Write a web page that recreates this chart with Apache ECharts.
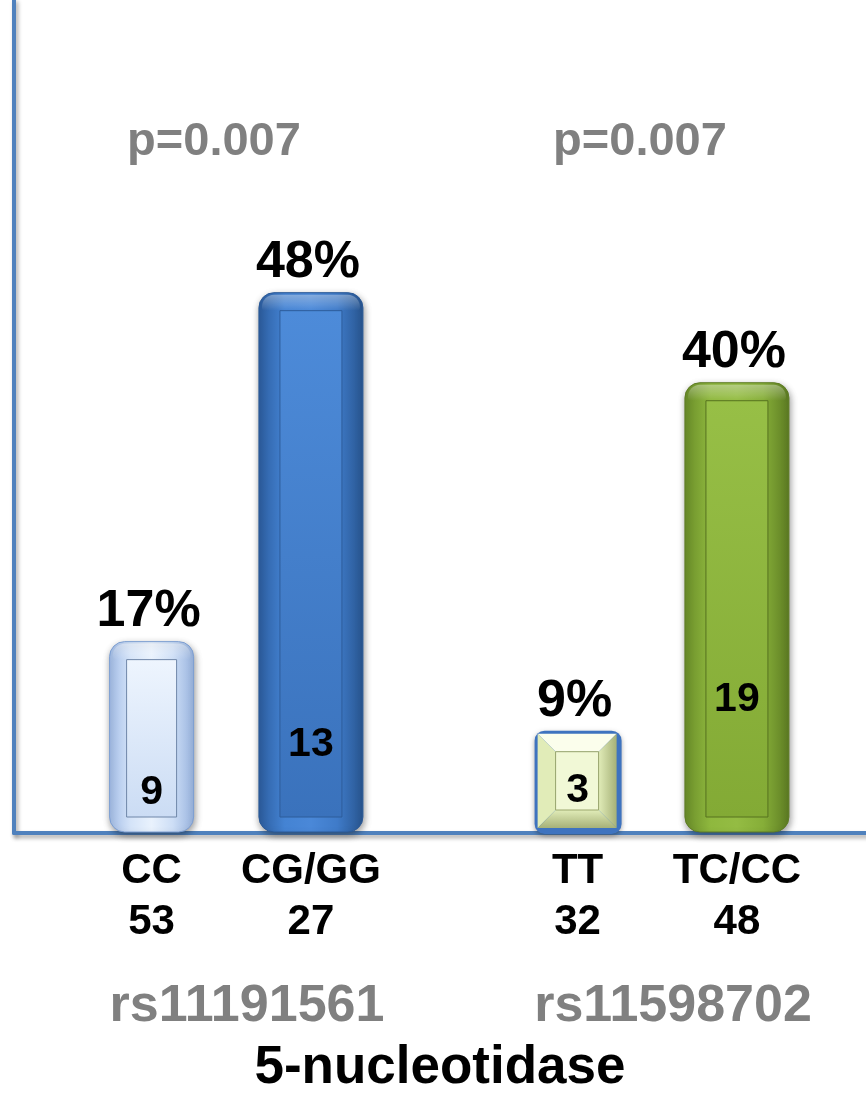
<!DOCTYPE html>
<html>
<head>
<meta charset="utf-8">
<script src="https://cdn.jsdelivr.net/npm/echarts@6/dist/echarts.min.js"></script>
<style>
  html, body { margin: 0; padding: 0; background: #ffffff; }
  #chart { width: 866px; height: 1094px; }
</style>
</head>
<body>
<div id="chart"></div>
<script>
// SNP markers and their p-values
const markers = ['rs11191561', 'rs11598702'];
const pValues = ['p=0.007', 'p=0.007'];

// Genotype groups, in drawing order
const genotypes = ['CC', 'CG/GG', 'TT', 'TC/CC'];
const genotypeMarker = [0, 0, 1, 1];   // index into markers
const genotypeSlot = [0, 1, 0, 1];     // first / second bar inside a marker
const patients = [53, 27, 32, 48];     // n per genotype
const cases = [9, 13, 3, 19];          // events per genotype
const percents = [17, 48, 9, 40];      // % with event

// ---- look & layout ----
const FONT = '"Liberation Sans", Arial, Helvetica, sans-serif';
const AXIS_BLUE = '#4f81bd';
const SLOT_OFFSET = [-0.177, 0.197];   // bar centre, as a fraction of the band width
const SLOT_WIDTH = [84, 104];
const COUNT_LIFT = [40, 88, 42, 133];  // height of the count label above the baseline
const P_TOP = 142;
const P_SHIFT = -13;

const BAR_THEMES = [
  { kind: 'round',
    outer: ['#a3bde7', '#d4e3f8', '#e9f2fd', '#cddef6', '#98b3de'], stroke: '#7c9ed2',
    inner: ['#eef5fe', '#cbdcf4'], innerStroke: '#6f86a8' },
  { kind: 'round',
    outer: ['#2c5d9f', '#4483d3', '#4a88d8', '#3f7bc9', '#28558f'], stroke: '#2b5a98',
    inner: ['#4d8bd9', '#3a72bc'], innerStroke: '#2d5c9a' },
  { kind: 'bevel',
    backdrop: '#3e73bf', face: '#f1f8d6', light: '#fbfeec', side: '#e1ecb8', dark: '#a6b178',
    innerStroke: '#9aa66c' },
  { kind: 'round',
    outer: ['#6a8d29', '#8fb83e', '#94bc43', '#86ae38', '#5d7c23'], stroke: '#5e7c24',
    inner: ['#97bf46', '#83aa35'], innerStroke: '#56721f' }
];

function hGrad(cols) {
  return new echarts.graphic.LinearGradient(0, 0, 1, 0,
    cols.map((c, k) => ({ offset: k / (cols.length - 1), color: c })));
}
function vGrad(cols) {
  return new echarts.graphic.LinearGradient(0, 0, 0, 1,
    cols.map((c, k) => ({ offset: k / (cols.length - 1), color: c })));
}
function label(text, x, y, size, color) {
  return {
    type: 'text',
    z2: 20,
    style: {
      text: text, x: x, y: y,
      fontFamily: FONT, fontSize: size, fontWeight: 'bold',
      fill: color, align: 'center', verticalAlign: 'middle'
    }
  };
}

function renderBar(params, api) {
  const i = api.value(2);
  const g = api.value(0);
  const base = api.coord([g, 0]);
  const topPt = api.coord([g, api.value(1)]);
  const band = api.size([1, 0])[0];
  const slot = genotypeSlot[i];
  const w = SLOT_WIDTH[slot];
  const cx = base[0] + band * SLOT_OFFSET[slot];
  const x = cx - w / 2;
  const y = topPt[1];
  const yb = base[1] - 1;
  const h = yb - y;
  const t = BAR_THEMES[i];
  const kids = [];

  if (t.kind === 'round') {
    const r = Math.min(15, h / 2);
    kids.push({
      type: 'rect',
      shape: { x: x, y: y, width: w, height: h, r: r },
      style: {
        fill: hGrad(t.outer), stroke: t.stroke, lineWidth: 1,
        shadowBlur: 7, shadowColor: 'rgba(0,0,0,0.4)', shadowOffsetY: 3, shadowOffsetX: 1
      }
    });
    // soft highlight along the top edge
    kids.push({
      type: 'rect',
      shape: { x: x + 3, y: y + 2, width: w - 6, height: Math.min(16, h / 4), r: [r - 2, r - 2, 4, 4] },
      style: { fill: vGrad(['rgba(255,255,255,0.35)', 'rgba(255,255,255,0)']) }
    });
    const ix = Math.round(w * 0.2);
    kids.push({
      type: 'rect',
      shape: { x: x + ix, y: y + 18, width: w - 2 * ix, height: Math.max(0, h - 33) },
      style: { fill: vGrad(t.inner), stroke: t.innerStroke, lineWidth: 1 }
    });
  } else {
    // square tile with bevelled edges over a blue backing
    kids.push({
      type: 'rect',
      shape: { x: x - 1, y: y - 1, width: w + 3, height: h + 3, r: 10 },
      style: { fill: t.backdrop, shadowBlur: 5, shadowColor: 'rgba(0,0,0,0.35)', shadowOffsetY: 2 }
    });
    const fx = x + 2, fy = y + 2, fw = w - 5, fh = h - 6;
    const b = Math.min(18, fh / 3);
    const ax = fx + b, ay = fy + b, bx = fx + fw - b, by = fy + fh - b;
    kids.push({ type: 'polygon', shape: { points: [[fx, fy], [fx + fw, fy], [bx, ay], [ax, ay]] }, style: { fill: t.light } });
    kids.push({ type: 'polygon', shape: { points: [[fx, fy], [ax, ay], [ax, by], [fx, fy + fh]] }, style: { fill: t.side } });
    kids.push({ type: 'polygon', shape: { points: [[fx + fw, fy], [fx + fw, fy + fh], [bx, by], [bx, ay]] }, style: { fill: hGrad([t.side, t.dark]) } });
    kids.push({ type: 'polygon', shape: { points: [[fx, fy + fh], [ax, by], [bx, by], [fx + fw, fy + fh]] }, style: { fill: vGrad([t.side, t.dark]) } });
    kids.push({ type: 'rect', shape: { x: ax, y: ay, width: bx - ax, height: by - ay }, style: { fill: t.face, stroke: t.innerStroke, lineWidth: 1 } });
  }

  // percentage above, case count inside, genotype and n below
  kids.push(label(percents[i] + '%', cx - 3, y - 30, 52, '#000000'));
  kids.push(label(String(cases[i]), cx, base[1] - COUNT_LIFT[i], 41, '#000000'));
  kids.push(label(genotypes[i], cx, base[1] + 38, 42, '#000000'));
  kids.push(label(String(patients[i]), cx, base[1] + 89, 42, '#000000'));

  return { type: 'group', children: kids };
}

function renderP(params, api) {
  const g = api.value(0);
  const pt = api.coord([g, 0]);
  return label(pValues[g], pt[0] + P_SHIFT, P_TOP, 47, '#808080');
}

const barData = genotypes.map((_, i) => [genotypeMarker[i], percents[i], i]);
const pData = markers.map((_, g) => [g, 0]);

const axisLine = {
  show: true,
  lineStyle: {
    color: AXIS_BLUE, width: 4,
    shadowColor: 'rgba(0,0,0,0.35)', shadowBlur: 4, shadowOffsetX: 2, shadowOffsetY: 3
  }
};

const chart = echarts.init(document.getElementById('chart'), null, { renderer: 'canvas' });
chart.setOption({
  animation: false,
  backgroundColor: '#ffffff',
  grid: { left: 14, right: 0, top: 0, bottom: 261, containLabel: false, outerBoundsMode: 'none' },
  xAxis: {
    type: 'category',
    data: markers,
    axisLine: axisLine,
    axisTick: { show: false },
    axisLabel: {
      margin: 148,
      padding: [0, 0, 0, 40],
      color: '#808080',
      fontFamily: FONT, fontSize: 52, fontWeight: 'bold'
    },
    name: '5-nucleotidase',
    nameLocation: 'middle',
    nameGap: 209,
    nameTextStyle: { color: '#000000', fontFamily: FONT, fontSize: 53, fontWeight: 'bold' },
    splitLine: { show: false }
  },
  yAxis: {
    type: 'value',
    min: 0,
    max: 74,
    axisLine: axisLine,
    axisTick: { show: false },
    axisLabel: { show: false },
    splitLine: { show: false }
  },
  series: [
    {
      type: 'custom',
      name: 'events',
      renderItem: renderBar,
      encode: { x: 0, y: 1 },
      data: barData,
      clip: false,
      z: 5
    },
    {
      type: 'custom',
      name: 'p',
      renderItem: renderP,
      encode: { x: 0, y: 1 },
      data: pData,
      clip: false,
      z: 5
    }
  ]
});
</script>
</body>
</html>
